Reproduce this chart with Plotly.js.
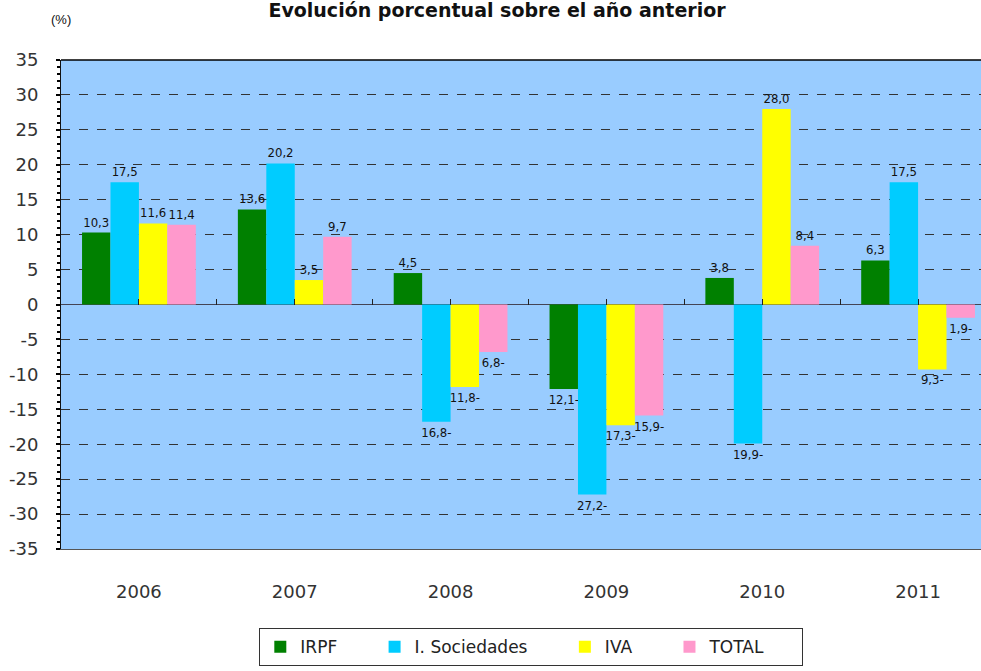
<!DOCTYPE html>
<html>
<head>
<meta charset="utf-8">
<script src="https://cdn.plot.ly/plotly-3.0.1.min.js"></script>
<style>
html,body{margin:0;padding:0;overflow:hidden;background:#fff;}
#chart{width:1000px;height:671px;}
</style>
</head>
<body>
<div id="chart"></div>
<script>
var years = ['2006','2007','2008','2009','2010','2011'];
var irpf = [10.3, 13.6, 4.5, -12.1, 3.8, 6.3];
var sociedades = [17.5, 20.2, -16.8, -27.2, -19.9, 17.5];
var iva = [11.6, 3.5, -11.8, -17.3, 28.0, -9.3];
var total = [11.4, 9.7, -6.8, -15.9, 8.4, -1.9];
var seriesNames = ['IRPF', 'I. Sociedades', 'IVA', 'TOTAL'];
var yTicks = [35,30,25,20,15,10,5,0,-5,-10,-15,-20,-25,-30,-35];

function fmt(v){
  var s = Math.abs(v).toFixed(1).replace('.', ',');
  return v < 0 ? s + '-' : s;
}
var pad = '\u00A0\u00A0\u00A0\u00A0\u00A0\u00A0';
var colors = ['#008000', '#00CCFF', '#FFFF00', '#FF99CC'];
var allSeries = [irpf, sociedades, iva, total];
var labelFont = {family: 'DejaVu Sans Condensed, DejaVu Sans, sans-serif', size: 13, color: '#111'};

var traces = allSeries.map(function(vals, i){
  return {
    type: 'bar',
    name: seriesNames[i] + pad,
    x: years,
    y: vals,
    marker: {color: colors[i], line: {width: 0}},
    text: vals.map(fmt),
    textposition: 'outside',
    textfont: labelFont,
    constraintext: 'none',
    cliponaxis: false,
    hoverinfo: 'none'
  };
});

// helper axis for category ticks on the zero line
var tickPos = [];
for (var k = 0; k < years.length; k++){ tickPos.push(k - 0.5); tickPos.push(k); }
tickPos.push(years.length - 0.5);
traces.push({type:'scatter', x:[], y:[], xaxis:'x2', showlegend:false, hoverinfo:'none'});

var tickFont = {family: 'DejaVu Sans, sans-serif', size: 18, color: '#333'};

var layout = {
  width: 1000, height: 671,
  margin: {l: 61, r: 4, t: 60, b: 122},
  paper_bgcolor: '#ffffff',
  plot_bgcolor: '#99CCFF',
  title: {
    text: '<b>Evolución porcentual sobre el año anterior</b>',
    font: {family: 'DejaVu Sans, sans-serif', size: 19, color: '#111'},
    x: 0.497, xanchor: 'center',
    yref: 'container', y: 0.985, yanchor: 'middle'
  },
  barmode: 'group',
  bargap: 0.27,
  bargroupgap: 0,
  showlegend: true,
  legend: {
    orientation: 'h',
    x: 0.503, xanchor: 'center',
    y: -0.162, yanchor: 'top',
    bordercolor: '#333', borderwidth: 1,
    bgcolor: '#ffffff',
    font: {family: 'DejaVu Sans, sans-serif', size: 17, color: '#222'},
    itemwidth: 30,
    traceorder: 'normal'
  },
  xaxis: {
    type: 'category',
    showgrid: false,
    showline: true, linecolor: '#555', linewidth: 1, mirror: false,
    ticks: '',
    tickfont: tickFont,
    ticklabelstandoff: 26,
    zeroline: false
  },
  xaxis2: {
    overlaying: 'x',
    anchor: 'free',
    position: 0.5,
    side: 'bottom',
    range: [-0.5, years.length - 0.5],
    tickvals: tickPos,
    ticks: 'inside', ticklen: 6, tickcolor: '#222', tickwidth: 1,
    showticklabels: false,
    showgrid: false, showline: false, zeroline: false
  },
  yaxis: {
    range: [-35, 35],
    tickvals: yTicks,
    ticktext: yTicks.map(String),
    showgrid: true, gridcolor: '#333', griddash: 'dash', gridwidth: 1,
    zeroline: true, zerolinecolor: '#445', zerolinewidth: 1,
    showline: true, linecolor: '#111', linewidth: 1,
    ticks: 'outside', ticklen: 4, tickcolor: '#000', tickwidth: 2,
    minor: {dtick: 1, ticks: 'outside', ticklen: 3, tickcolor: '#000', tickwidth: 2, showgrid: false},
    tickfont: tickFont,
    ticklabelstandoff: 14
  },
  shapes: [{
    type: 'line', xref: 'paper', yref: 'paper', x0: 0, x1: 1, y0: 1, y1: 1,
    line: {color: '#000', width: 1.5}
  }],
  annotations: [{
    text: '(%)', xref: 'paper', yref: 'paper', x: 0.0, y: 1.082,
    xanchor: 'center', yanchor: 'middle', showarrow: false,
    font: {family: 'Liberation Sans, Arial, sans-serif', size: 13, color: '#111'}
  }]
};

Plotly.newPlot('chart', traces, layout, {displayModeBar: false, staticPlot: true});
</script>
</body>
</html>
